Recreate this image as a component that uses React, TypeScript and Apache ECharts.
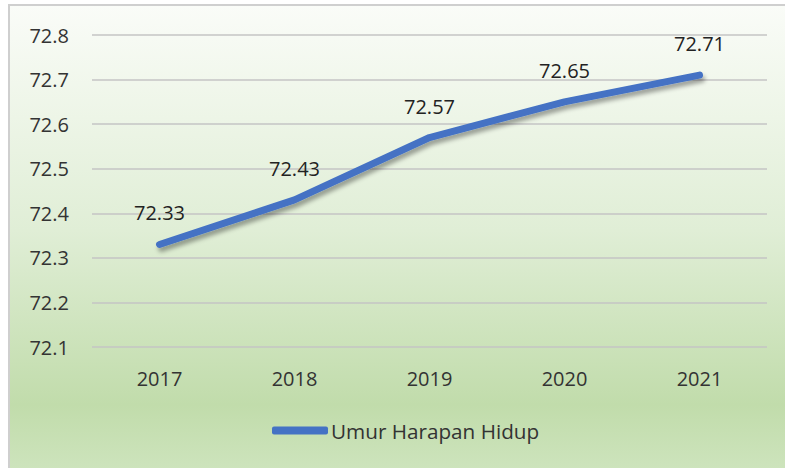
import React, { useEffect, useRef } from "react";
import * as echarts from "echarts";

const categories = ["2017", "2018", "2019", "2020", "2021"];
const values = [72.33, 72.43, 72.57, 72.65, 72.71];
const seriesName = "Umur Harapan Hidup";
const yMin = 72.1;
const yMax = 72.8;

export default function App() {
  const ref = useRef<HTMLDivElement>(null);
  useEffect(() => {
    const chart = echarts.init(ref.current!, null, { renderer: "svg" });
    const font = "Open Sans";
    const fs = 20;
    chart.setOption({
      animation: false,
      graphic: [
        {
          type: "rect",
          z: -10,
          silent: true,
          shape: { x: 9, y: 5, width: 800, height: 500 },
          style: {
            fill: new echarts.graphic.LinearGradient(0, 0, 0, 1, [
              { offset: 0, color: "#fafcf8" },
              { offset: 0.45, color: "#e0eed6" },
              { offset: 0.8, color: "#c1dcab" },
              { offset: 1, color: "#d4e8c6" },
            ]),
            stroke: "#cfcfcf",
            lineWidth: 2,
          },
        },
      ],
      grid: { left: 92, right: 18, top: 35, bottom: 121, containLabel: false },
      legend: {
        bottom: 22,
        left: 267,
        itemWidth: 56,
        itemHeight: 8,
        itemGap: 4,
        icon: "roundRect",
        textStyle: { fontFamily: font, fontSize: 20.7, color: "#333333", padding: [0, 0, 0, -2] },
        data: [seriesName],
      },
      xAxis: {
        type: "category",
        data: categories,
        boundaryGap: true,
        axisLine: { show: false },
        axisTick: { show: false },
        axisLabel: { fontFamily: font, fontSize: fs, color: "#333333", margin: 21 },
      },
      yAxis: {
        type: "value",
        min: yMin,
        max: yMax,
        interval: 0.1,
        axisLine: { show: false },
        axisTick: { show: false },
        splitLine: { lineStyle: { color: "#c4c4c4", width: 1.5 } },
        axisLabel: {
          fontFamily: font,
          fontSize: fs,
          color: "#333333",
          margin: 23,
          formatter: (v: number) => v.toFixed(1),
        },
      },
      series: [
        {
          name: seriesName,
          type: "line",
          data: values,
          symbol: "circle",
          symbolSize: 1,
          showSymbol: true,
          lineStyle: {
            color: "#4472c4",
            width: 7,
            cap: "round",
            join: "round",
            shadowColor: "rgba(0,0,0,0.35)",
            shadowBlur: 4,
            shadowOffsetX: 2,
            shadowOffsetY: 4,
          },
          itemStyle: { color: "#4472c4" },
          label: {
            show: true,
            position: "top",
            distance: 21,
            fontFamily: font,
            fontSize: fs,
            color: "#222222",
            formatter: (p: any) => p.value.toFixed(2),
          },
        },
      ],
    });
    return () => chart.dispose();
  }, []);
  return (
    <div
      ref={ref}
      style={{ position: "absolute", left: 0, top: 0, width: 785, height: 468 }}
    />
  );
}
